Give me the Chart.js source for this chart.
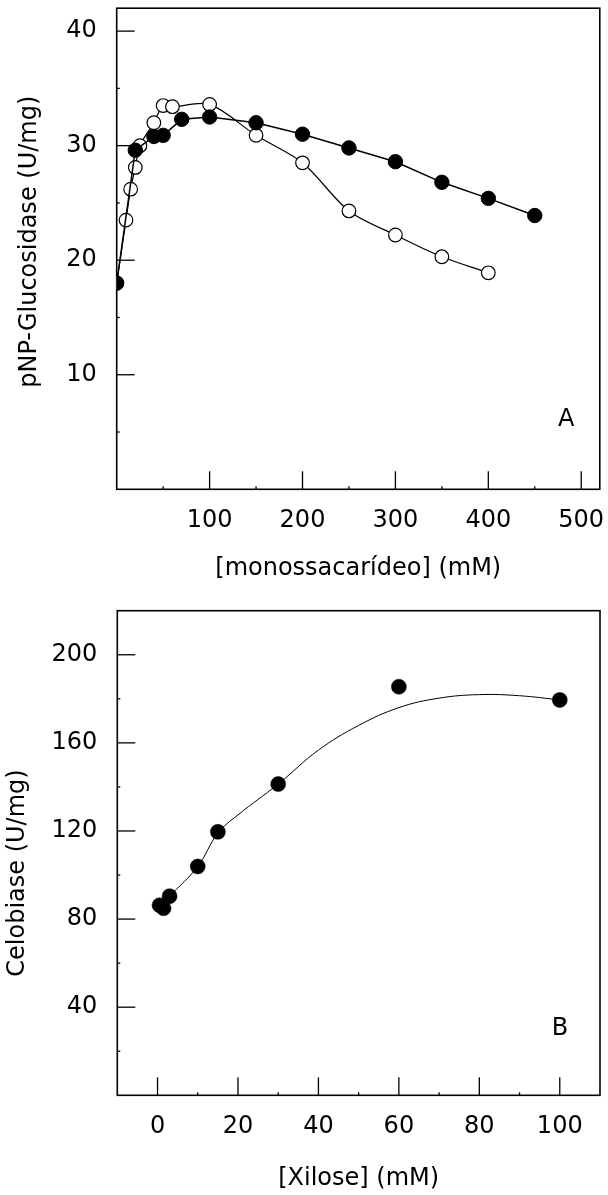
<!DOCTYPE html>
<html>
<head>
<meta charset="utf-8">
<script src="https://cdn.jsdelivr.net/npm/chart.js@4"></script>
<style>
  body { margin: 0; background: #fff; }
  #wrap { position: relative; width: 608px; height: 1195px; }
  canvas { position: absolute; left: 0; }
  #chartA { top: 0; }
  #chartB { top: 600px; }
</style>
</head>
<body>
<div id="wrap">
  <canvas id="chartA" width="608" height="600"></canvas>
  <canvas id="chartB" width="608" height="595"></canvas>
</div>
<script>
// Panel A: pNP-glucosidase vs [monossacarídeo]
const filledX = [0, 20, 40, 50, 70, 100, 150, 200, 250, 300, 350, 400, 450];
const filledY = [18.0, 29.6, 30.8, 30.9, 32.3, 32.5, 32.0, 31.0, 29.8, 28.6, 26.8, 25.4, 23.9];
const openX = [0, 10, 15, 20, 25, 40, 50, 60, 100, 150, 200, 250, 300, 350, 400];
const openY = [18.0, 23.5, 26.2, 28.1, 30.0, 32.0, 33.5, 33.4, 33.6, 30.9, 28.5, 24.3, 22.2, 20.3, 18.9];
const ticksXA = [100, 200, 300, 400, 500];
const ticksYA = [10, 20, 30, 40];
const minorXA = [50, 150, 250, 350, 450];
const minorYA = [5, 15, 25, 35];

// Panel B: celobiase vs [Xilose]
const xyloseX = [0.5, 1.5, 3, 10, 15, 30, 60, 100];
const celobiaseY = [86.3, 84.9, 90.4, 103.9, 119.6, 141.3, 185.5, 179.5];
const fitX = [3, 10, 15, 20, 30, 40, 50, 60, 70, 80, 90, 100];
const fitY = [90.4, 103.9, 119.0, 127.3, 141.3, 156.7, 167.9, 176.0, 180.3, 181.9, 181.4, 179.5];
const ticksXB = [0, 20, 40, 60, 80, 100];
const ticksYB = [40, 80, 120, 160, 200];
const minorXB = [10, 30, 50, 70, 90];
const minorYB = [20, 60, 100, 140, 180];

const FONT = '"DejaVu Sans", sans-serif';
const pts = (xs, ys) => xs.map((x, i) => ({ x, y: ys[i] }));

// inward ticks, closed frame, rotated y title and panel letter
const framePlugin = {
    id: 'frame',
    beforeDatasetsDraw(chart, args, opts) {
        const { ctx, chartArea: a, scales: { x, y } } = chart;
        ctx.save();
        ctx.strokeStyle = '#000';
        const tick = (px, py, dx, dy) => {
            ctx.beginPath();
            ctx.moveTo(px, py);
            ctx.lineTo(px + dx, py + dy);
            ctx.stroke();
        };
        ctx.lineWidth = 1.3;
        x.ticks.forEach(t => tick(x.getPixelForValue(t.value), a.bottom, 0, -18));
        y.ticks.forEach(t => tick(a.left, y.getPixelForValue(t.value), 18, 0));
        opts.minorX.forEach(v => tick(x.getPixelForValue(v), a.bottom, 0, -3));
        opts.minorY.forEach(v => tick(a.left, y.getPixelForValue(v), 3, 0));
        ctx.lineWidth = 1.6;
        ctx.strokeRect(a.left, a.top, a.width, a.height);

        ctx.fillStyle = '#000';
        ctx.font = '24px ' + FONT;
        ctx.textAlign = 'center';
        ctx.textBaseline = 'middle';
        ctx.fillText(opts.letter, a.right + opts.letterDx, a.bottom + opts.letterDy);
        ctx.translate(opts.titleX, (a.top + a.bottom) / 2 + opts.titleShift);
        ctx.rotate(-Math.PI / 2);
        ctx.fillText(opts.title, 0, 0);
        ctx.restore();
    }
};

function axis(min, max, tickValues, size, horizontal, title, titlePad) {
    return {
        type: 'linear',
        min: min,
        max: max,
        grid: { display: false, drawTicks: false },
        border: { display: false },
        afterBuildTicks: s => { s.ticks = tickValues.map(v => ({ value: v })); },
        ticks: {
            autoSkip: false,
            maxRotation: 0,
            color: '#000',
            padding: horizontal ? 17 : 20,
            font: { family: FONT, size: 24 }
        },
        title: horizontal ? {
            display: true,
            text: title,
            color: '#000',
            font: { family: FONT, size: 24 },
            padding: { top: 0, bottom: titlePad }
        } : { display: false },
        afterFit: s => {
            if (horizontal) {
                s.height = size;
                s.paddingLeft = 0;
                s.paddingRight = 0;
            } else {
                s.width = size;
                s.paddingTop = 0;
                s.paddingBottom = 0;
            }
        }
    };
}

const common = {
    responsive: false,
    animation: false,
    events: [],
    plugins: { legend: { display: false }, tooltip: { enabled: false } }
};

new Chart(document.getElementById('chartA'), {
    type: 'scatter',
    data: {
        datasets: [{
            data: pts(filledX, filledY),
            showLine: true,
            borderColor: '#000',
            borderWidth: 1.5,
            pointRadius: 7.2,
            pointBorderWidth: 1,
            pointBackgroundColor: '#000',
            pointBorderColor: '#000',
            tension: 0,
            clip: 0
        }, {
            data: pts(openX, openY),
            showLine: true,
            borderColor: '#000',
            borderWidth: 1.2,
            pointRadius: 6.8,
            pointBorderWidth: 1.2,
            pointBackgroundColor: '#fff',
            pointBorderColor: '#000',
            tension: 0.3,
            clip: 0
        }]
    },
    options: {
        ...common,
        layout: { padding: { top: 6, right: 7.5, left: 0, bottom: 0 } },
        scales: {
            x: axis(0, 520, ticksXA, 110.7, true, '[monossacarídeo] (mM)', 17),
            y: axis(0, 42, ticksYA, 116.7, false)
        },
        plugins: {
            ...common.plugins,
            frame: {
                minorX: minorXA, minorY: minorYA,
                letter: 'A', letterDx: -33.5, letterDy: -70,
                title: 'pNP-Glucosidase (U/mg)', titleX: 30, titleShift: -7
            }
        }
    },
    plugins: [framePlugin]
});

new Chart(document.getElementById('chartB'), {
    type: 'scatter',
    data: {
        datasets: [{
            data: pts(xyloseX, celobiaseY),
            showLine: false,
            pointRadius: 7.5,
            pointBorderWidth: 0.5,
            pointBackgroundColor: '#000',
            pointBorderColor: '#000',
            clip: 0
        }, {
            data: pts(fitX, fitY),
            showLine: true,
            borderColor: '#000',
            borderWidth: 1,
            pointRadius: 0,
            tension: 0.4,
            clip: 0
        }]
    },
    options: {
        ...common,
        layout: { padding: { top: 10.7, right: 7.5, left: 0, bottom: 0 } },
        scales: {
            x: axis(-10, 110, ticksXB, 99.7, true, '[Xilose] (mM)', 1.6),
            y: axis(0, 220, ticksYB, 117.3, false)
        },
        plugins: {
            ...common.plugins,
            frame: {
                minorX: minorXB, minorY: minorYB,
                letter: 'B', letterDx: -40, letterDy: -66.5,
                title: 'Celobiase (U/mg)', titleX: 18, titleShift: 20
            }
        }
    },
    plugins: [framePlugin]
});
</script>
</body>
</html>
